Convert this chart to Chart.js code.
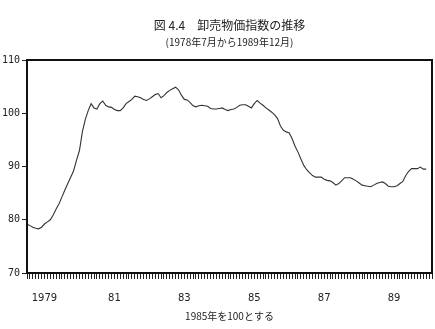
<!DOCTYPE html>
<html>
<head>
<meta charset="utf-8">
<script src="https://cdn.jsdelivr.net/npm/chart.js@4.4.0/dist/chart.umd.min.js"></script>
<style>
  html, body { margin: 0; padding: 0; background: #fff; }
  #wrap { width: 435px; height: 329px; }
</style>
</head>
<body>
<div id="wrap"><canvas id="chart" width="435" height="329"></canvas></div>
<script>
// wholesale price index, monthly, 1985 = 100
const startYear = 1978;
const startMonth = 7;
const v1978 = [79.2, 78.9, 78.6, 78.4, 78.3, 78.6];
const v1979 = [79.2, 79.6, 80.0, 80.9, 82.0, 83.0, 84.3, 85.6, 86.8, 88.0, 89.2, 91.2];
const v1980 = [93.0, 96.5, 98.8, 100.5, 101.8, 101.0, 100.8, 101.8, 102.3, 101.5, 101.2, 101.1];
const v1981 = [100.7, 100.5, 100.5, 101.0, 101.8, 102.2, 102.6, 103.2, 103.1, 102.9, 102.6, 102.4];
const v1982 = [102.7, 103.1, 103.5, 103.7, 102.9, 103.3, 103.9, 104.3, 104.6, 104.9, 104.4, 103.4];
const v1983 = [102.6, 102.5, 102.0, 101.4, 101.2, 101.4, 101.5, 101.4, 101.3, 100.9, 100.8, 100.8];
const v1984 = [100.9, 101.0, 100.7, 100.5, 100.7, 100.8, 101.1, 101.5, 101.6, 101.6, 101.3, 101.0];
const v1985 = [101.8, 102.4, 101.9, 101.5, 101.0, 100.6, 100.2, 99.7, 99.0, 97.6, 96.8, 96.5];
const v1986 = [96.3, 95.2, 93.8, 92.7, 91.4, 90.2, 89.4, 88.8, 88.3, 88.0, 88.0, 88.0];
const v1987 = [87.6, 87.4, 87.3, 87.0, 86.5, 86.8, 87.3, 87.9, 87.9, 87.9, 87.6, 87.3];
const v1988 = [86.9, 86.5, 86.4, 86.3, 86.2, 86.5, 86.8, 87.0, 87.1, 86.8, 86.3, 86.2];
const v1989 = [86.2, 86.4, 86.8, 87.2, 88.3, 89.1, 89.6, 89.6, 89.6, 89.9, 89.5, 89.5];

const yTicks = [70, 80, 90, 100, 110];
const xLabelYears = [1979, 1981, 1983, 1985, 1987, 1989];
const xLabelText = ['1979', '81', '83', '85', '87', '89'];

const titleText = '図 4.4　卸売物価指数の推移';
const subtitleText = '(1978年7月から1989年12月)';
const captionText = '1985年を100とする';

const values = [].concat(v1978, v1979, v1980, v1981, v1982, v1983, v1984, v1985, v1986, v1987, v1988, v1989);
const points = values.map((v, i) => ({ x: i, y: v }));

// month index of january of a year
function janIndex(year) {
  return (year - startYear) * 12 - (startMonth - 1);
}

const cjk = '"Noto Sans CJK JP", sans-serif';

// frame round the plot and the text above / below it
const captions = {
  id: 'captions',
  afterDraw(chart) {
    const ctx = chart.ctx;
    const a = chart.chartArea;
    const cx = (a.left + a.right) / 2;
    ctx.save();
    ctx.strokeStyle = '#111';
    ctx.lineWidth = 2;
    ctx.strokeRect(a.left, a.top, a.right - a.left, a.bottom - a.top);
    ctx.fillStyle = '#222';
    ctx.textAlign = 'center';
    ctx.textBaseline = 'middle';
    ctx.font = '12px ' + cjk;
    ctx.fillText(titleText, cx, 25);
    ctx.font = '10px ' + cjk;
    ctx.fillText(subtitleText, cx, 42);
    ctx.fillText(captionText, cx, 316);
    ctx.restore();
  }
};

new Chart(document.getElementById('chart'), {
  type: 'line',
  data: {
    datasets: [{
      data: points,
      borderColor: '#333',
      borderWidth: 1.1,
      pointRadius: 0,
      tension: 0,
      fill: false
    }]
  },
  options: {
    responsive: false,
    animation: false,
    events: [],
    layout: { padding: { top: 60, right: 3, left: 0, bottom: 0 } },
    plugins: { legend: { display: false }, tooltip: { enabled: false } },
    scales: {
      x: {
        type: 'linear',
        min: 0,
        max: 139,
        afterBuildTicks(scale) {
          const t = [];
          for (let i = 0; i <= 139; i++) t.push({ value: i });
          scale.ticks = t;
        },
        afterFit(scale) {
          scale.height = 56;
          scale.paddingLeft = 0;
          scale.paddingRight = 0;
        },
        grid: { drawOnChartArea: false, tickLength: 6, color: '#222', tickWidth: 1 },
        border: { color: '#111', width: 2 },
        ticks: {
          autoSkip: false,
          maxRotation: 0,
          padding: 13,
          color: '#222',
          font: { family: '"DejaVu Sans", sans-serif', size: 10 },
          callback(v) {
            const k = xLabelYears.findIndex(y => janIndex(y) === v);
            return k >= 0 ? xLabelText[k] : '';
          }
        }
      },
      y: {
        min: 70,
        max: 110,
        afterBuildTicks(scale) { scale.ticks = yTicks.map(v => ({ value: v })); },
        afterFit(scale) { scale.width = 27; },
        grid: { drawOnChartArea: false, tickLength: 5, color: '#222' },
        border: { color: '#111', width: 2 },
        ticks: {
          padding: 2,
          color: '#222',
          font: { family: '"DejaVu Sans Mono", monospace', size: 10 }
        }
      }
    }
  },
  plugins: [captions]
});
</script>
</body>
</html>
